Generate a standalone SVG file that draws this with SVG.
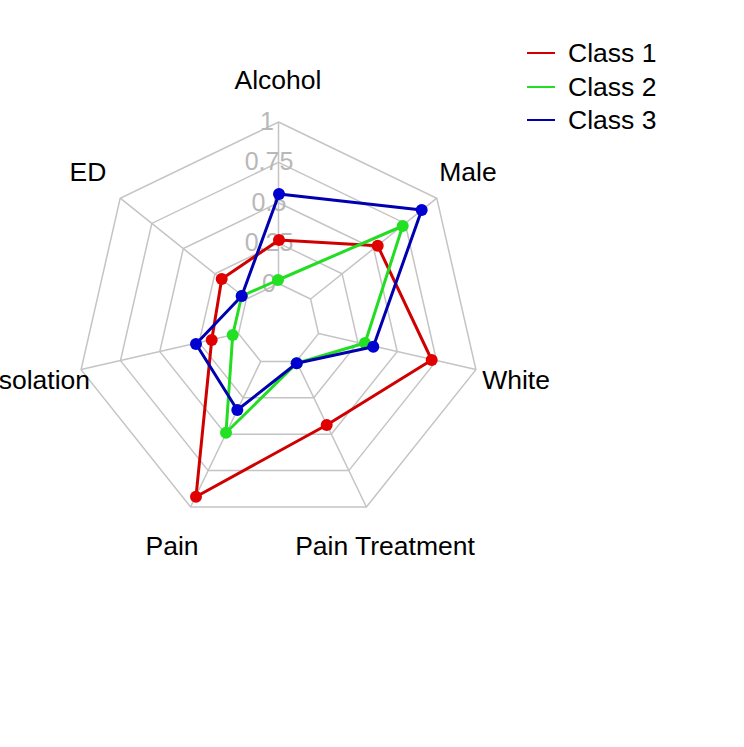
<svg xmlns="http://www.w3.org/2000/svg" width="744" height="747" viewBox="0 0 744 747">
<style>
.g{fill:none;stroke:#c4c4c4;stroke-width:1.5}
.s{fill:none;stroke-width:3;stroke-linejoin:round}
.t{font-family:"Liberation Sans",Arial,sans-serif;font-size:26.5px;fill:#000}
.v{font-family:"Liberation Sans",Arial,sans-serif;font-size:25px;fill:#b8b8b8;text-anchor:middle}
</style>
<rect width="744" height="747" fill="#fff"/>
<g id="grid">
<polygon class="g" points="278.5,122 436.8,198.2 475.9,369.6 366.4,507 190.6,507 81.1,369.6 120.2,198.2"/>
<polygon class="g" points="278.5,162.4 405.2,223.4 436.5,360.6 348.8,470.6 208.2,470.6 120.5,360.6 151.8,223.4"/>
<polygon class="g" points="278.5,202.7 373.7,248.6 397.2,351.6 331.3,434.2 225.7,434.2 159.8,351.6 183.3,248.6"/>
<polygon class="g" points="278.5,243.1 342.1,273.7 357.9,342.6 313.8,397.8 243.2,397.8 199.1,342.6 214.9,273.7"/>
<polygon class="g" points="278.5,283.5 310.6,299 318.5,333.6 296.3,361.4 260.7,361.4 238.5,333.6 246.4,299"/>
<path class="g" d="M278.5,283.5L278.5,122M310.6,299L436.8,198.2M318.5,333.6L475.9,369.6M296.3,361.4L366.4,507M260.7,361.4L190.6,507M238.5,333.6L81.1,369.6M246.4,299L120.2,198.2"/>
</g>
<g id="scale">
<text class="v" x="267" y="130">1</text>
<text class="v" x="269" y="170">0.75</text>
<text class="v" x="269" y="211">0.5</text>
<text class="v" x="269" y="251">0.25</text>
<text class="v" x="269" y="292">0</text>
</g>
<g id="series">
<g id="class1" fill="#e00000">
<polygon class="s" stroke="#d00000" points="279,240 377.7,245.7 431.7,360 326.7,425 196,496.7 211.7,340 221.7,279"/>
<circle cx="279" cy="240" r="6"/><circle cx="377.7" cy="245.7" r="6"/><circle cx="431.7" cy="360" r="6"/><circle cx="326.7" cy="425" r="6"/><circle cx="196" cy="496.7" r="6"/><circle cx="211.7" cy="340" r="6"/><circle cx="221.7" cy="279" r="6"/>
</g>
<g id="class2" fill="#22e022">
<polygon class="s" stroke="#22dd22" points="278,280 402.7,226 365,343 296.7,363.3 226,432.7 232.7,335 241.7,296"/>
<circle cx="278" cy="280" r="6"/><circle cx="402.7" cy="226" r="6"/><circle cx="365" cy="343" r="6"/><circle cx="296.7" cy="363.3" r="6"/><circle cx="226" cy="432.7" r="6"/><circle cx="232.7" cy="335" r="6"/><circle cx="241.7" cy="296" r="6"/>
</g>
<g id="class3" fill="#0000d0">
<polygon class="s" stroke="#0000b0" points="279,194 421.7,210 373.3,346.7 296.7,363.3 237.3,410 196,344 241.7,296"/>
<circle cx="279" cy="194" r="6"/><circle cx="421.7" cy="210" r="6"/><circle cx="373.3" cy="346.7" r="6"/><circle cx="296.7" cy="363.3" r="6"/><circle cx="237.3" cy="410" r="6"/><circle cx="196" cy="344" r="6"/><circle cx="241.7" cy="296" r="6"/>
</g>
</g>
<g id="labels">
<text class="t" x="278" y="89" text-anchor="middle">Alcohol</text>
<text class="t" x="468" y="181" text-anchor="middle">Male</text>
<text class="t" x="516" y="389" text-anchor="middle">White</text>
<text class="t" x="385" y="555" text-anchor="middle">Pain Treatment</text>
<text class="t" x="172" y="555" text-anchor="middle">Pain</text>
<text class="t" x="90" y="389" text-anchor="end">Isolation</text>
<text class="t" x="88" y="181" text-anchor="middle">ED</text>
</g>
<g id="legend">
<line x1="527" y1="53" x2="555" y2="53" stroke="#d00000" stroke-width="2"/>
<line x1="527" y1="87" x2="555" y2="87" stroke="#22dd22" stroke-width="2"/>
<line x1="527" y1="120" x2="555" y2="120" stroke="#0000b0" stroke-width="2"/>
<text class="t" x="568" y="62">Class 1</text>
<text class="t" x="568" y="96">Class 2</text>
<text class="t" x="568" y="129">Class 3</text>
</g>
</svg>
